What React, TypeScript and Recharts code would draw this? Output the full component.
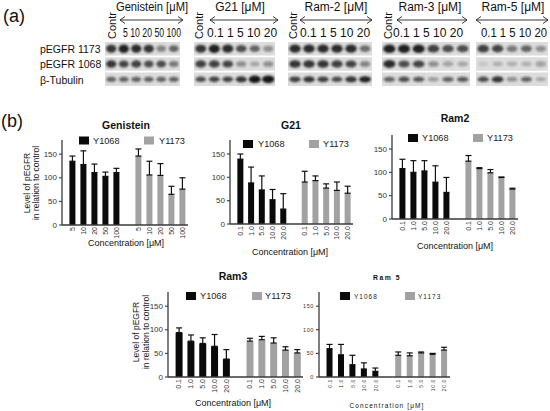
import React from "react";
import {
  BarChart,
  Bar,
  XAxis,
  YAxis,
  Cell,
  ErrorBar,
  ReferenceLine,
  ScatterChart,
  Scatter,
  ReferenceArea,
} from "recharts";

const FONT = "'Liberation Sans', Arial, Helvetica, sans-serif";
const BLACK = "#0a0a0a";
const GREY = "#a2a2a2";
const AXIS = "#3a3a3a";

// (b) pEGFR level in % of control
const genisteinConc = ["5", "10", "20", "50", "100"];
const genisteinY1068 = [135, 128, 111, 103, 111];
const genisteinY1068Err = [11, 29, 18, 9, 9];
const genisteinY1173 = [146, 106, 105, 65, 76];
const genisteinY1173Err = [15, 29, 25, 17, 24];

const ramConc = ["0.1", "1.0", "5.0", "10.0", "20.0"];

const g21Y1068 = [139, 88, 73, 52, 32];
const g21Y1068Err = [11, 34, 30, 22, 33];
const g21Y1173 = [90, 93, 77, 72, 66];
const g21Y1173Err = [23, 10, 9, 18, 15];

const ram2Y1068 = [108, 100, 103, 79, 57];
const ram2Y1068Err = [20, 25, 22, 35, 32];
const ram2Y1173 = [124, 108, 99, 89, 64];
const ram2Y1173Err = [12, 2, 7, 1, 2];

const ram3Y1068 = [94, 76, 71, 65, 38];
const ram3Y1068Err = [10, 13, 12, 25, 20];
const ram3Y1173 = [76, 79, 72, 57, 51];
const ram3Y1173Err = [6, 7, 11, 7, 7];

const ram5Y1068 = [60, 47, 26, 17, 12];
const ram5Y1068Err = [9, 22, 20, 13, 7];
const ram5Y1173 = [46, 45, 51, 48, 57];
const ram5Y1173Err = [7, 6, 2, 2, 6];

const yTicks = [0, 50, 100, 150];

// (a) blot band strength per lane, rows: pEGFR 1173, pEGFR 1068, β-Tubulin
const blotRowNames = ["pEGFR 1173", "pEGFR 1068", "β-Tubulin"];
const genisteinBands = [
  [0.85, 0.95, 0.9, 0.85, 0.45, 0.6],
  [0.85, 0.75, 0.8, 0.7, 0.7, 0.5],
  [0.6, 0.6, 0.6, 0.6, 0.6, 0.6],
];
const g21Bands = [
  [0.85, 0.95, 0.9, 0.7, 0.6, 0.4],
  [0.8, 0.8, 0.75, 0.4, 0.25, 0.4],
  [0.7, 0.75, 0.75, 0.85, 1.3, 1.4],
];
const ram2Bands = [
  [0.9, 0.9, 0.9, 0.9, 0.9, 0.55],
  [0.85, 0.85, 0.85, 0.8, 0.75, 0.45],
  [0.8, 0.85, 0.8, 0.7, 0.85, 0.95],
];
const ram3Bands = [
  [0.95, 0.95, 0.95, 0.8, 0.7, 0.7],
  [0.9, 0.7, 0.75, 0.4, 0.3, 0.25],
  [0.6, 0.7, 0.65, 0.35, 0.6, 0.65],
];
const ram5Bands = [
  [0.8, 0.75, 0.5, 0.6, 0.4],
  [0.1, 0.2, 0.2, 0.2, 0.3],
  [0.7, 0.85, 0.4, 0.6, 0.25],
];

// one-sided (upper) error: [below, above]
const toRows = (conc: string[], a: number[], aErr: number[], b: number[], bErr: number[]) => [
  ...conc.map((c, i) => ({ label: c, value: a[i], errRange: [0, aErr[i]], series: "Y1068" })),
  { label: " ", value: null, errRange: null, series: "" },
  ...conc.map((c, i) => ({ label: c, value: b[i], errRange: [0, bErr[i]], series: "Y1173" })),
];

const XTick = ({ x, y, payload, tiny }: any) => (
  <text
    transform={`translate(${x},${y}) rotate(-90)`}
    textAnchor="end"
    dominantBaseline="central"
    fontSize={tiny ? 5 : 7}
    letterSpacing={tiny ? 0.6 : 0}
    fill="#333"
    fontFamily={FONT}
  >
    {payload.value}
  </text>
);

// y tick mark + value, placed at the reference line's left end
const YTickLabel = (props: any) => {
  const vb = props.viewBox || props;
  const { v, tiny } = props;
  if (!vb || !Number.isFinite(vb.x) || !Number.isFinite(vb.y)) return <g />;
  return (
    <g>
      <line x1={vb.x - 3} x2={vb.x} y1={vb.y} y2={vb.y} stroke={AXIS} strokeWidth={1.1} />
      <text
        x={vb.x - 5}
        y={vb.y}
        textAnchor="end"
        dominantBaseline="central"
        fontSize={tiny ? 5.5 : 8}
        letterSpacing={tiny ? 0.6 : 0}
        fill="#333"
        fontFamily={FONT}
      >
        {v}
      </text>
    </g>
  );
};

const BarPanel = ({ rows, x0, top, bottom, xEnd, tiny }: any) => {
  const left = x0 - 30;
  const ctop = top - 4;
  const width = xEnd - left + 4;
  const height = bottom - ctop + 40;
  return (
    <div style={{ position: "absolute", left, top: ctop }}>
      <BarChart
        width={width}
        height={height}
        data={rows}
        margin={{ top: 4, right: 4, left: 0, bottom: 0 }}
        barCategoryGap="22%"
      >
        <XAxis
          dataKey="label"
          height={40}
          interval={0}
          tickLine={false}
          tickSize={1}
          tickMargin={1}
          padding={{ left: 5, right: 0 }}
          axisLine={{ stroke: AXIS, strokeWidth: 1.3 }}
          tick={<XTick tiny={tiny} />}
        />
        <YAxis
          type="number"
          width={30}
          domain={[0, 180]}
          allowDataOverflow
          ticks={yTicks}
          tick={false}
          tickLine={false}
          axisLine={{ stroke: AXIS, strokeWidth: 1.3 }}
        />
        {yTicks.map((t) => (
          <ReferenceLine
            key={t}
            y={t}
            stroke="none"
            strokeOpacity={0}
            label={<YTickLabel v={t} tiny={tiny} />}
          />
        ))}
        <Bar dataKey="value" isAnimationActive={false} fill={BLACK}>
          {rows.map((r: any, i: number) => (
            <Cell key={i} fill={r.series === "Y1068" ? BLACK : GREY} />
          ))}
          <ErrorBar dataKey="errRange" width={3} stroke="#111" strokeWidth={1.2} direction="y" />
        </Bar>
      </BarChart>
    </div>
  );
};

const BandShape = (props: any) => {
  const { cx, cy, payload } = props;
  if (!Number.isFinite(cx)) return <g />;
  const baseRy = [3.8, 3.6, 2.8][payload.row];
  const v = payload.v;
  return (
    <ellipse
      cx={cx}
      cy={cy}
      rx={payload.rx * (0.8 + 0.2 * Math.min(v, 1.5))}
      ry={baseRy * (0.55 + 0.6 * v)}
      fill="#151515"
      fillOpacity={Math.min(v, 1)}
      filter="url(#blotBlur)"
    />
  );
};

const Blot = ({ bands, x1, x2, y1, y2 }: any) => {
  const n = bands[0].length;
  const rx = ((x2 - x1) / n) * 0.42;
  const pts = bands.flatMap((row: number[], r: number) =>
    row.map((v, lane) => ({ lane, row: r, v, rx }))
  );
  return (
    <div style={{ position: "absolute", left: x1, top: y1 }}>
      <ScatterChart width={x2 - x1} height={y2 - y1} margin={{ top: 0, right: 0, bottom: 0, left: 0 }}>
        <XAxis type="number" dataKey="lane" domain={[-0.5, n - 0.5]} hide />
        <YAxis type="number" dataKey="row" domain={[-0.5, 2.5]} reversed hide />
        {blotRowNames.map((name, r) => (
          <ReferenceArea
            key={name}
            x1={-0.5}
            x2={n - 0.5}
            y1={r - 0.44}
            y2={r + 0.44}
            fill="#dcdcdc"
            fillOpacity={1}
            stroke="none"
          />
        ))}
        <Scatter data={pts} isAnimationActive={false} shape={BandShape} />
      </ScatterChart>
    </div>
  );
};

const Arrow = ({ x1, x2, y }: any) => (
  <g stroke="#222" fill="none" strokeWidth={0.9}>
    <line x1={x1} x2={x2} y1={y} y2={y} />
    <polyline points={`${x1 + 5},${y - 3.5} ${x1},${y} ${x1 + 5},${y + 3.5}`} />
    <polyline points={`${x2 - 5},${y - 3.5} ${x2},${y} ${x2 - 5},${y + 3.5}`} />
  </g>
);

const Legend = ({ y, sq1, t1, sq2, t2, tiny }: any) => {
  const fs = tiny ? 6.5 : 9.2;
  const ls = tiny ? 1 : 0;
  return (
    <g fontFamily={FONT} fontSize={fs} letterSpacing={ls} fill="#222">
      <rect x={sq1} y={y - 4} width={10} height={8} fill={BLACK} />
      <text x={t1} y={y} dominantBaseline="central">Y1068</text>
      <rect x={sq2} y={y - 4} width={10} height={8} fill={GREY} />
      <text x={t2} y={y} dominantBaseline="central">Y1173</text>
    </g>
  );
};

const YLabel = ({ x1, x2, y }: any) => (
  <g fontFamily={FONT} fontSize={8.5} fill="#222" textAnchor="middle">
    <text transform={`translate(${x1},${y}) rotate(-90)`} dominantBaseline="central">Level of pEGFR</text>
    <text transform={`translate(${x2},${y}) rotate(-90)`} dominantBaseline="central">in relation to control</text>
  </g>
);

const panels = [
  { rows: toRows(genisteinConc, genisteinY1068, genisteinY1068Err, genisteinY1173, genisteinY1173Err), x0: 62, top: 140, bottom: 225, xEnd: 188 },
  { rows: toRows(ramConc, g21Y1068, g21Y1068Err, g21Y1173, g21Y1173Err), x0: 230, top: 140, bottom: 224, xEnd: 353 },
  { rows: toRows(ramConc, ram2Y1068, ram2Y1068Err, ram2Y1173, ram2Y1173Err), x0: 392, top: 135, bottom: 219, xEnd: 518 },
  { rows: toRows(ramConc, ram3Y1068, ram3Y1068Err, ram3Y1173, ram3Y1173Err), x0: 168, top: 292, bottom: 377, xEnd: 303 },
  { rows: toRows(ramConc, ram5Y1068, ram5Y1068Err, ram5Y1173, ram5Y1173Err), x0: 319, top: 292, bottom: 377, xEnd: 450, tiny: true },
];

const blots = [
  { bands: genisteinBands, x1: 105, x2: 180 },
  { bands: g21Bands, x1: 194, x2: 275 },
  { bands: ram2Bands, x1: 288, x2: 372 },
  { bands: ram3Bands, x1: 382, x2: 470 },
  { bands: ram5Bands, x1: 476, x2: 548 },
];

export default function App() {
  return (
    <div style={{ position: "absolute", left: 0, top: 0, width: 550, height: 411, background: "#fff" }}>
      <svg width={0} height={0} style={{ position: "absolute" }}>
        <defs>
          <filter id="blotBlur" x="-50%" y="-80%" width="200%" height="260%">
            <feGaussianBlur stdDeviation={0.9} />
          </filter>
        </defs>
      </svg>

      <svg width={550} height={411} style={{ position: "absolute", left: 0, top: 0, pointerEvents: "none" }}>
        <g fontFamily={FONT} fill="#111">
          <text x={3} y={16} fontSize={18} dominantBaseline="central">(a)</text>
          <text x={1} y={121} fontSize={18} dominantBaseline="central">(b)</text>

          <g fontSize={12} textAnchor="middle">
            <text x={152} y={7} dominantBaseline="central" textLength={72} lengthAdjust="spacingAndGlyphs">Genistein [μM]</text>
            <text x={240} y={7} dominantBaseline="central">G21 [μM]</text>
            <text x={336} y={7} dominantBaseline="central">Ram-2 [μM]</text>
            <text x={430} y={7} dominantBaseline="central">Ram-3 [μM]</text>
            <text x={513} y={7} dominantBaseline="central">Ram-5 [μM]</text>
          </g>

          <Arrow x1={120} x2={183} y={20} />
          <Arrow x1={210} x2={278} y={20} />
          <Arrow x1={300} x2={372} y={20} />
          <Arrow x1={397} x2={467} y={20} />
          <Arrow x1={476} x2={548} y={20} />

          <g fontSize={11}>
            {[112, 199, 293, 388].map((x) => (
              <text key={x} transform={`translate(${x},39) rotate(-90)`} dominantBaseline="central">Contr</text>
            ))}
          </g>

          <g fontSize={12}>
            <text x={123} y={33} dominantBaseline="central" textLength={58} lengthAdjust="spacingAndGlyphs">5 10 20 50 100</text>
            <text x={207} y={33} dominantBaseline="central">0.1 1 5 10 20</text>
            <text x={300} y={33} dominantBaseline="central">0.1 1 5 10 20</text>
            <text x={393} y={33} dominantBaseline="central">0.1 1 5 10 20</text>
            <text x={481} y={33} dominantBaseline="central" textLength={66} lengthAdjust="spacingAndGlyphs">0.1 1 5 10 20</text>
          </g>

          <g fontSize={10.5}>
            {blotRowNames.map((name, r) => (
              <text key={name} x={40} y={49 + r * 15.3} dominantBaseline="central">{name}</text>
            ))}
          </g>

          <g fontWeight="bold" fontSize={10.5} textAnchor="middle">
            <text x={126} y={125} dominantBaseline="central">Genistein</text>
            <text x={291} y={125} dominantBaseline="central">G21</text>
            <text x={455} y={118} dominantBaseline="central">Ram2</text>
            <text x={233} y={276} dominantBaseline="central">Ram3</text>
          </g>
          <text x={387} y={277} fontWeight="bold" fontSize={6.8} letterSpacing={1.5} textAnchor="middle" dominantBaseline="central">Ram 5</text>

          <Legend y={140.5} sq1={79} t1={93} sq2={144} t2={159} />
          <Legend y={144} sq1={243} t1={258} sq2={309} t2={323} />
          <Legend y={138} sq1={408} t1={422} sq2={473} t2={487} />
          <Legend y={296} sq1={186} t1={200} sq2={252} t2={265} />
          <Legend y={296} sq1={340} t1={354} sq2={405} t2={418} tiny />

          <YLabel x1={26.5} x2={36} y={183} />
          <YLabel x1={136} x2={146} y={332} />

          <g fontSize={9} textAnchor="middle">
            <text x={126} y={243} dominantBaseline="central">Concentration [μM]</text>
            <text x={290} y={252} dominantBaseline="central">Concentration [μM]</text>
            <text x={455} y={246} dominantBaseline="central">Concentration [μM]</text>
            <text x={233} y={403} dominantBaseline="central">Concentration [μM]</text>
          </g>
          <text x={387} y={405} fontSize={6.5} letterSpacing={1.1} textAnchor="middle" dominantBaseline="central">Concentration [μM]</text>
        </g>
      </svg>

      {blots.map((b, i) => (
        <Blot key={i} bands={b.bands} x1={b.x1} x2={b.x2} y1={41} y2={87} />
      ))}

      {panels.map((p, i) => (
        <BarPanel key={i} {...p} />
      ))}
    </div>
  );
}
